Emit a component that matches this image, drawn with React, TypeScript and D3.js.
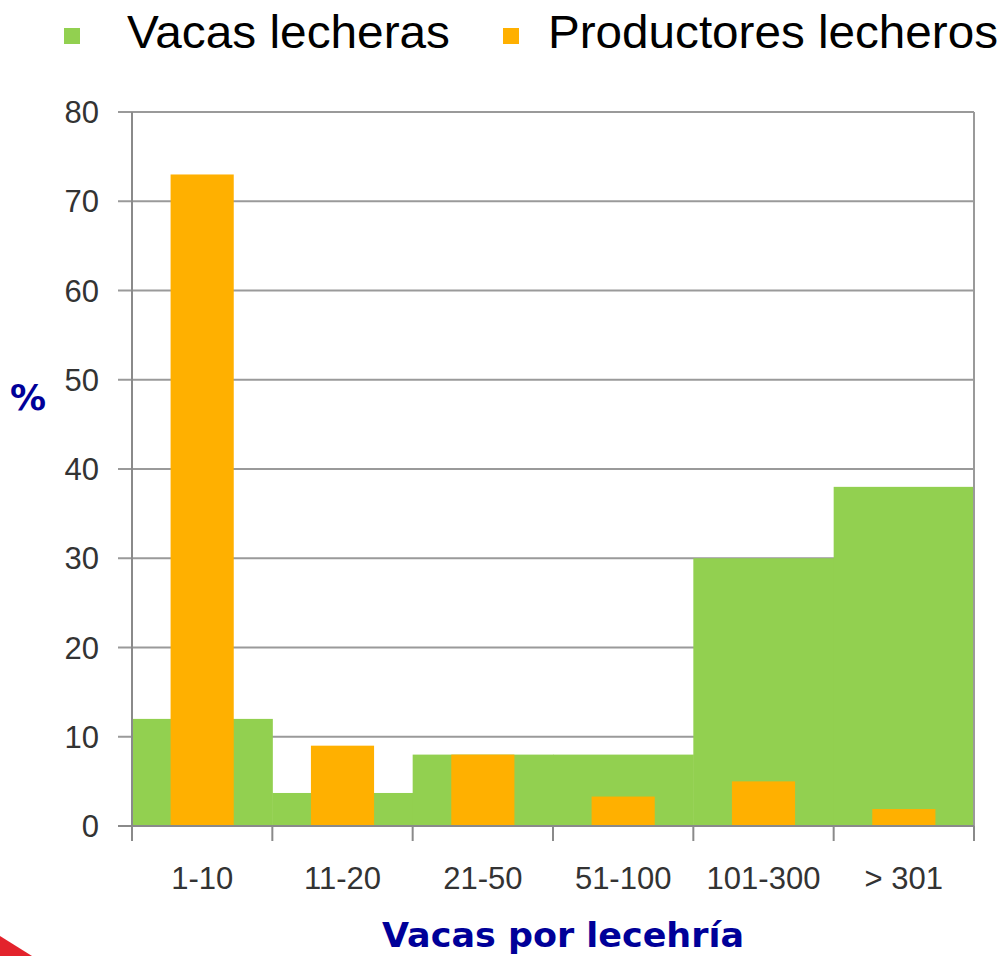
import React, { useEffect, useRef } from 'react';
import * as d3 from 'd3';

const categories = ['1-10', '11-20', '21-50', '51-100', '101-300', '> 301'];
const vacas = [12, 3.7, 8, 8, 30, 38];
const productores = [73, 9, 8, 3.3, 5, 1.9];
const yTicks = [0, 10, 20, 30, 40, 50, 60, 70, 80];

const GREEN = '#92D050';
const ORANGE = '#FFB000';
const BLUE = '#000099';

const App = () => {
  const svgRef = useRef<SVGSVGElement>(null);

  useEffect(() => {
    const width = 1004;
    const height = 956;
    const margin = { top: 112, right: 30, bottom: 130, left: 132 };
    const innerWidth = width - margin.left - margin.right;
    const innerHeight = height - margin.top - margin.bottom;

    d3.select(svgRef.current).selectAll('*').remove();
    const root = d3.select(svgRef.current).attr('width', width).attr('height', height);

    // red slide decoration, bottom-left
    root.append('path')
      .attr('d', 'M0,936 L32,956 L0,956 Z')
      .attr('fill', '#E3232C');

    const svg = root.append('g')
      .attr('transform', `translate(${margin.left},${margin.top})`);

    const x = d3.scaleBand().domain(categories).range([0, innerWidth]).padding(0);
    const y = d3.scaleLinear().domain([0, 80]).range([innerHeight, 0]);

    // gridlines
    svg.append('g')
      .selectAll('line')
      .data(yTicks.filter(d => d > 0))
      .enter()
      .append('line')
      .attr('x1', -14)
      .attr('x2', innerWidth)
      .attr('y1', d => y(d))
      .attr('y2', d => y(d))
      .attr('stroke', '#9a9a9a')
      .attr('stroke-width', 2);

    // green bars, full band width
    svg.append('g')
      .selectAll('rect')
      .data(vacas)
      .enter()
      .append('rect')
      .attr('x', (d, i) => x(categories[i]) || 0)
      .attr('y', d => y(d))
      .attr('width', x.bandwidth() + 0.5)
      .attr('height', d => innerHeight - y(d))
      .attr('fill', GREEN);

    // orange bars, narrower and centered
    const ow = x.bandwidth() * 0.45;
    svg.append('g')
      .selectAll('rect')
      .data(productores)
      .enter()
      .append('rect')
      .attr('x', (d, i) => (x(categories[i]) || 0) + (x.bandwidth() - ow) / 2)
      .attr('y', d => y(d))
      .attr('width', ow)
      .attr('height', d => innerHeight - y(d))
      .attr('fill', ORANGE);

    // axes
    svg.append('line')
      .attr('x1', 0).attr('x2', 0).attr('y1', 0).attr('y2', innerHeight)
      .attr('stroke', '#8a8a8a').attr('stroke-width', 2);
    svg.append('line')
      .attr('x1', innerWidth).attr('x2', innerWidth).attr('y1', 0).attr('y2', innerHeight)
      .attr('stroke', '#9a9a9a').attr('stroke-width', 2);
    svg.append('line')
      .attr('x1', -14).attr('x2', innerWidth).attr('y1', innerHeight).attr('y2', innerHeight)
      .attr('stroke', '#8a8a8a').attr('stroke-width', 2);

    // x ticks at band edges
    const edges = categories.map(c => x(c) || 0).concat([innerWidth]);
    svg.append('g')
      .selectAll('line')
      .data(edges)
      .enter()
      .append('line')
      .attr('x1', d => d).attr('x2', d => d)
      .attr('y1', innerHeight).attr('y2', innerHeight + 15)
      .attr('stroke', '#8a8a8a').attr('stroke-width', 2);

    // y tick labels
    svg.append('g')
      .selectAll('text')
      .data(yTicks)
      .enter()
      .append('text')
      .attr('x', -33)
      .attr('y', d => y(d))
      .attr('dy', '0.36em')
      .attr('text-anchor', 'end')
      .attr('font-family', 'Liberation Sans, Arial, sans-serif')
      .attr('font-size', 31)
      .attr('fill', '#333')
      .text(d => d);

    // x tick labels
    svg.append('g')
      .selectAll('text')
      .data(categories)
      .enter()
      .append('text')
      .attr('x', d => (x(d) || 0) + x.bandwidth() / 2)
      .attr('y', innerHeight + 63)
      .attr('text-anchor', 'middle')
      .attr('font-family', 'Liberation Sans, Arial, sans-serif')
      .attr('font-size', 31)
      .attr('fill', '#333')
      .text(d => d);

    // axis titles
    root.append('text')
      .attr('x', 28)
      .attr('y', 410)
      .attr('text-anchor', 'middle')
      .attr('font-family', 'DejaVu Sans, sans-serif')
      .attr('font-weight', 'bold')
      .attr('font-size', 36)
      .attr('fill', BLUE)
      .text('%');

    root.append('text')
      .attr('x', 563)
      .attr('y', 947)
      .attr('text-anchor', 'middle')
      .attr('font-family', 'DejaVu Sans, sans-serif')
      .attr('font-weight', 'bold')
      .attr('font-size', 33)
      .attr('textLength', 362)
      .attr('lengthAdjust', 'spacingAndGlyphs')
      .attr('fill', BLUE)
      .text('Vacas por lecehría');

    // legend
    const legend = [
      { label: 'Vacas lecheras', color: GREEN, sx: 64, tx: 127, len: 323 },
      { label: 'Productores lecheros', color: ORANGE, sx: 503, tx: 548, len: 450 },
    ];
    const lg = root.append('g');
    lg.selectAll('rect')
      .data(legend)
      .enter()
      .append('rect')
      .attr('x', d => d.sx)
      .attr('y', 28)
      .attr('width', 16)
      .attr('height', 16)
      .attr('fill', d => d.color);
    lg.selectAll('text')
      .data(legend)
      .enter()
      .append('text')
      .attr('x', d => d.tx)
      .attr('y', 48)
      .attr('font-family', 'Liberation Sans, Arial, sans-serif')
      .attr('font-size', 46)
      .attr('textLength', d => d.len)
      .attr('lengthAdjust', 'spacingAndGlyphs')
      .attr('fill', '#000')
      .text(d => d.label);
  }, []);

  return (
    <svg
      ref={svgRef}
      style={{ position: 'absolute', left: 0, top: 0, background: '#fff' }}
    />
  );
};

export default App;
